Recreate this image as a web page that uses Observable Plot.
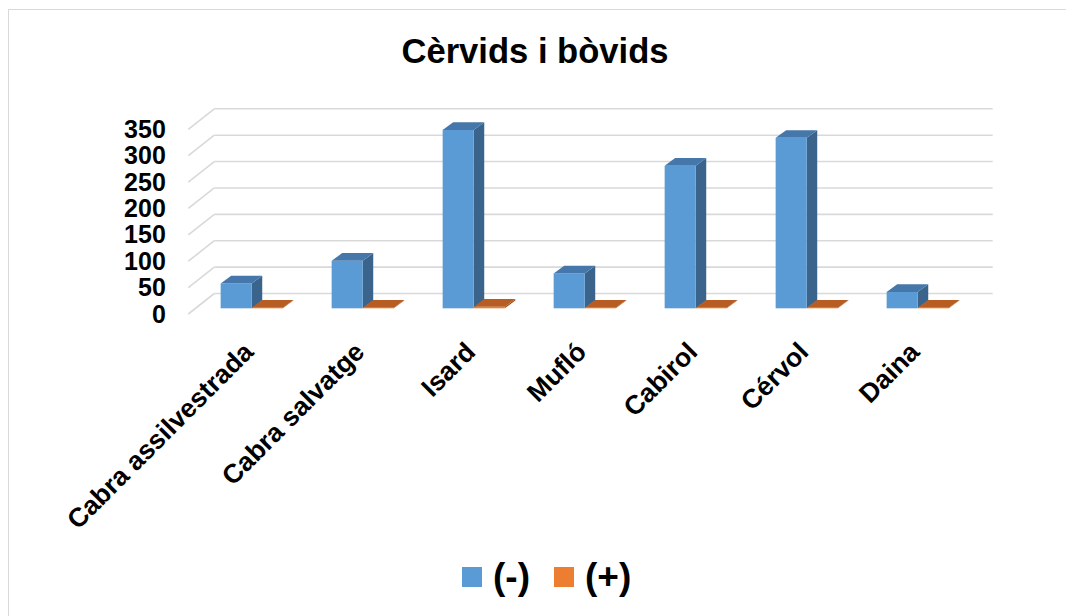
<!DOCTYPE html>
<html>
<head>
<meta charset="utf-8">
<script src="https://cdn.jsdelivr.net/npm/d3@7"></script>
<script src="https://cdn.jsdelivr.net/npm/@observablehq/plot@0.6"></script>
<style>
  html, body { margin: 0; padding: 0; background: #fff; }
  body { width: 1066px; height: 616px; overflow: hidden; position: relative; font-family: "Liberation Sans", Arial, sans-serif; color: #000; }
  #frame { position: absolute; left: 8px; top: 9px; right: -4px; bottom: -4px; border: 1.5px solid #d9d9d9; pointer-events: none; }
  #title { height: 80px; box-sizing: border-box; padding-top: 34px; padding-left: 4px; font-size: 34.6px; line-height: 34px; font-weight: bold; text-align: center; }
  #chart svg { display: block; }
  #legend { display: flex; align-items: center; padding-left: 462px; padding-top: 10px; font-size: 37px; line-height: 34px; font-weight: bold; }
  .sw { width: 20px; height: 20px; margin-right: 11px; }
  .item { display: flex; align-items: center; margin-right: 24px; }
</style>
</head>
<body>
<div id="frame"></div>
<div id="title">Cèrvids i bòvids</div>
<div id="chart"></div>
<div id="legend"></div>
<script>
// ---- data ----
const categories = ["Cabra assilvestrada", "Cabra salvatge", "Isard", "Mufló", "Cabirol", "Cérvol", "Daina"];
const minusValues = [47, 90, 338, 66, 270, 323, 31];
const plusValues = [1, 1, 3, 1, 1, 1, 1];
const seriesNames = ["(-)", "(+)"];
const yTicks = [0, 50, 100, 150, 200, 250, 300, 350];

// ---- styles ----
const palettes = [
  {front: "#5B9BD5", side: "#3A648C", top: "#4677AA"},
  {front: "#ED7D31", side: "#9E4E1C", top: "#B75C22"}
];
const GRID = "#d9d9d9";
const WALL = {dx: 26, dy: -20.5};      // depth of the 3D box
const BAR_PLANE = 0.278;               // depth position of the bars
const BAR_DEPTH = {dx: 10.5, dy: -7.7};
const BAR_FRAC = 0.28;                 // bar width as fraction of band step

const rows = seriesNames.map((s, k) =>
  categories.map((c, i) => ({cat: c, series: s, value: (k === 0 ? minusValues : plusValues)[i]}))
);

function wallGrid(index, scales, values, dimensions) {
  const {marginLeft, marginRight, width} = dimensions;
  const g = d3.create("svg:g").attr("stroke", GRID).attr("stroke-width", 1.6).attr("fill", "none");
  for (const i of index) {
    const y = scales.y(yTicks[i]);
    g.append("line").attr("x1", marginLeft).attr("y1", y)
      .attr("x2", marginLeft + WALL.dx).attr("y2", y + WALL.dy);
    g.append("line").attr("x1", marginLeft + WALL.dx).attr("y1", y + WALL.dy)
      .attr("x2", width - marginRight + WALL.dx).attr("y2", y + WALL.dy);
  }
  return g.node();
}

function bars3d(data, k) {
  const pal = palettes[k];
  return (index, scales) => {
    const step = scales.x(categories[1]) - scales.x(categories[0]);
    const w = step * BAR_FRAC;
    const ox = WALL.dx * BAR_PLANE, oy = WALL.dy * BAR_PLANE;
    const {dx, dy} = BAR_DEPTH;
    const g = d3.create("svg:g");
    for (const i of index) {
      const r = data[i];
      const c = scales.x(r.cat) + step / 2 + ox;
      const x1 = k === 0 ? c - w : c, x2 = x1 + w;
      const yb = scales.y(0) + oy, yt = scales.y(r.value) + oy;
      g.append("path").attr("fill", pal.side)
        .attr("d", `M${x2},${yb}L${x2 + dx},${yb + dy}L${x2 + dx},${yt + dy}L${x2},${yt}Z`);
      g.append("rect").attr("fill", pal.front)
        .attr("x", x1).attr("y", yt).attr("width", w).attr("height", Math.max(0, yb - yt));
      g.append("path").attr("fill", pal.top)
        .attr("d", `M${x1},${yt}L${x1 + dx},${yt + dy}L${x2 + dx},${yt + dy}L${x2},${yt}Z`);
    }
    return g.node();
  };
}

const chart = Plot.plot({
  width: 1066,
  height: 470,
  marginLeft: 188.3,
  marginRight: 99.3,
  marginTop: 49.3,
  marginBottom: 236,
  style: {fontFamily: "'Liberation Sans', Arial, sans-serif", color: "#000", background: "transparent", overflow: "visible"},
  x: {domain: categories, padding: 0, axis: null},
  y: {domain: [0, 350], axis: null},
  marks: [
    Plot.ruleY(yTicks, {y: d => d, render: wallGrid}),
    Plot.barY(rows[0], {x: "cat", y: "value", render: bars3d(rows[0], 0)}),
    Plot.barY(rows[1], {x: "cat", y: "value", render: bars3d(rows[1], 1)}),
    Plot.axisY({ticks: yTicks, tickSize: 0, tickPadding: 23, fontSize: 25, fontWeight: "bold", label: null, fill: "#000"}),
    Plot.axisX({tickSize: 0, tickPadding: 33, tickRotate: -45, dx: 4, fontSize: 26.5, fontWeight: "bold", label: null, fill: "#000"})
  ]
});
document.getElementById("chart").appendChild(chart);

const legend = document.getElementById("legend");
seriesNames.forEach((s, k) => {
  const item = document.createElement("div");
  item.className = "item";
  const sw = document.createElement("div");
  sw.className = "sw";
  sw.style.background = palettes[k].front;
  const t = document.createElement("span");
  t.textContent = s;
  item.appendChild(sw);
  item.appendChild(t);
  legend.appendChild(item);
});
</script>
</body>
</html>
